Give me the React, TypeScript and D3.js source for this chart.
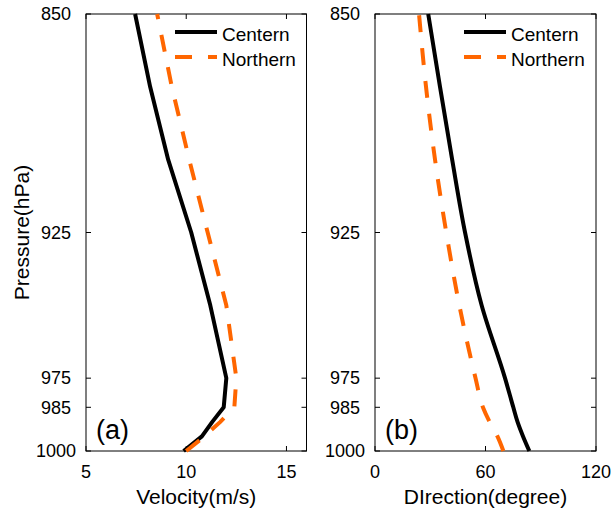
import React from "react";
import * as d3 from "d3";

const pressure = [850, 875, 900, 925, 950, 975, 985, 990, 995, 1000];
const velCentern = [7.45, 8.2, 9.1, 10.25, 11.2, 12.0, 11.87, 11.3, 10.78, 9.87];
const velNorthern = [8.55, 9.28, 10.15, 11.07, 12.0, 12.5, 12.4, 11.7, 10.9, 10.0];
const dirCentern = [28.9, 35.3, 41.9, 48.9, 57.9, 70.6, 75.1, 77.4, 80.4, 83.8];
const dirNorthern = [23.9, 27.7, 32.6, 38.7, 45.8, 54.6, 58.6, 62.2, 66.5, 69.7];

const yTicks = [850, 925, 975, 985, 1000];
const velTicks = [5, 10, 15];
const dirTicks = [0, 60, 120];
const seriesNames = ["Centern", "Northern"];

const FONT = "Arial, 'Liberation Sans', Helvetica, sans-serif";
const ORANGE = "#ff6600";
const TOP = 14;
const BOTTOM = 451;

type PanelProps = {
  x0: number;
  x1: number;
  domain: [number, number];
  ticks: number[];
  c: number[];
  n: number[];
  label: string;
  tag: string;
  legendX: number;
  showYLabel: boolean;
  smooth: boolean;
};

function Panel({ x0, x1, domain, ticks, c, n, label, tag, legendX, showYLabel, smooth }: PanelProps) {
  const x = d3.scaleLinear().domain(domain).range([x0, x1]);
  const y = d3.scaleLinear().domain([850, 1000]).range([TOP, BOTTOM]);
  const idx = pressure.map((_, i) => i).reverse();
  const line = (vals: number[]) =>
    d3
      .line<number>()
      .x((i) => x(vals[i]))
      .y((i) => y(pressure[i]))
      .curve(smooth ? d3.curveMonotoneY : d3.curveLinear)(idx) || "";
  const tl = 5;
  return (
    <g fontFamily={FONT}>
      <rect x={x0} y={TOP} width={x1 - x0} height={BOTTOM - TOP} fill="none" stroke="#000" strokeWidth={1} />
      {ticks.map((t) => (
        <g key={"xt" + t}>
          <line x1={x(t)} x2={x(t)} y1={BOTTOM} y2={BOTTOM - tl} stroke="#000" />
          <line x1={x(t)} x2={x(t)} y1={TOP} y2={TOP + tl} stroke="#000" />
          <text x={x(t)} y={478} fontSize={18} textAnchor="middle">
            {t}
          </text>
        </g>
      ))}
      {yTicks.map((t) => (
        <g key={"yt" + t}>
          <line x1={x0} x2={x0 + tl} y1={y(t)} y2={y(t)} stroke="#000" />
          <line x1={x1} x2={x1 - tl} y1={y(t)} y2={y(t)} stroke="#000" />
          <text x={x0 - 30} y={y(t)} dy="0.35em" fontSize={18} textAnchor="middle">
            {t}
          </text>
        </g>
      ))}
      <path d={line(c)} fill="none" stroke="#000" strokeWidth={4} strokeLinejoin="round" />
      <path d={line(n)} fill="none" stroke={ORANGE} strokeWidth={4} strokeDasharray="17,16" />
      <text x={(x0 + x1) / 2} y={504} fontSize={21} textAnchor="middle">
        {label}
      </text>
      {showYLabel && (
        <text transform={`translate(29,${(TOP + BOTTOM) / 2}) rotate(-90)`} fontSize={21} textAnchor="middle">
          Pressure(hPa)
        </text>
      )}
      <text x={x0 + 10} y={439} fontSize={27}>
        {tag}
      </text>
      <line x1={legendX} x2={legendX + 42} y1={32} y2={32} stroke="#000" strokeWidth={4} />
      <text x={legendX + 47} y={40.5} fontSize={19}>
        {seriesNames[0]}
      </text>
      <line x1={legendX} x2={legendX + 42} y1={57} y2={57} stroke={ORANGE} strokeWidth={4} strokeDasharray="17,16" />
      <text x={legendX + 47} y={65.5} fontSize={19}>
        {seriesNames[1]}
      </text>
    </g>
  );
}

export default function App() {
  return (
    <svg width={611} height={512} style={{ position: "absolute", left: 0, top: 0, background: "#fff" }}>
      <rect width={611} height={512} fill="#fff" />
      <Panel
        x0={86}
        x1={306.5}
        domain={[5, 16]}
        ticks={velTicks}
        c={velCentern}
        n={velNorthern}
        label="Velocity(m/s)"
        tag="(a)"
        legendX={175}
        showYLabel={true}
        smooth={false}
      />
      <Panel
        x0={375}
        x1={596}
        domain={[0, 120]}
        ticks={dirTicks}
        c={dirCentern}
        n={dirNorthern}
        label="DIrection(degree)"
        tag="(b)"
        legendX={464}
        showYLabel={false}
        smooth={true}
      />
    </svg>
  );
}
